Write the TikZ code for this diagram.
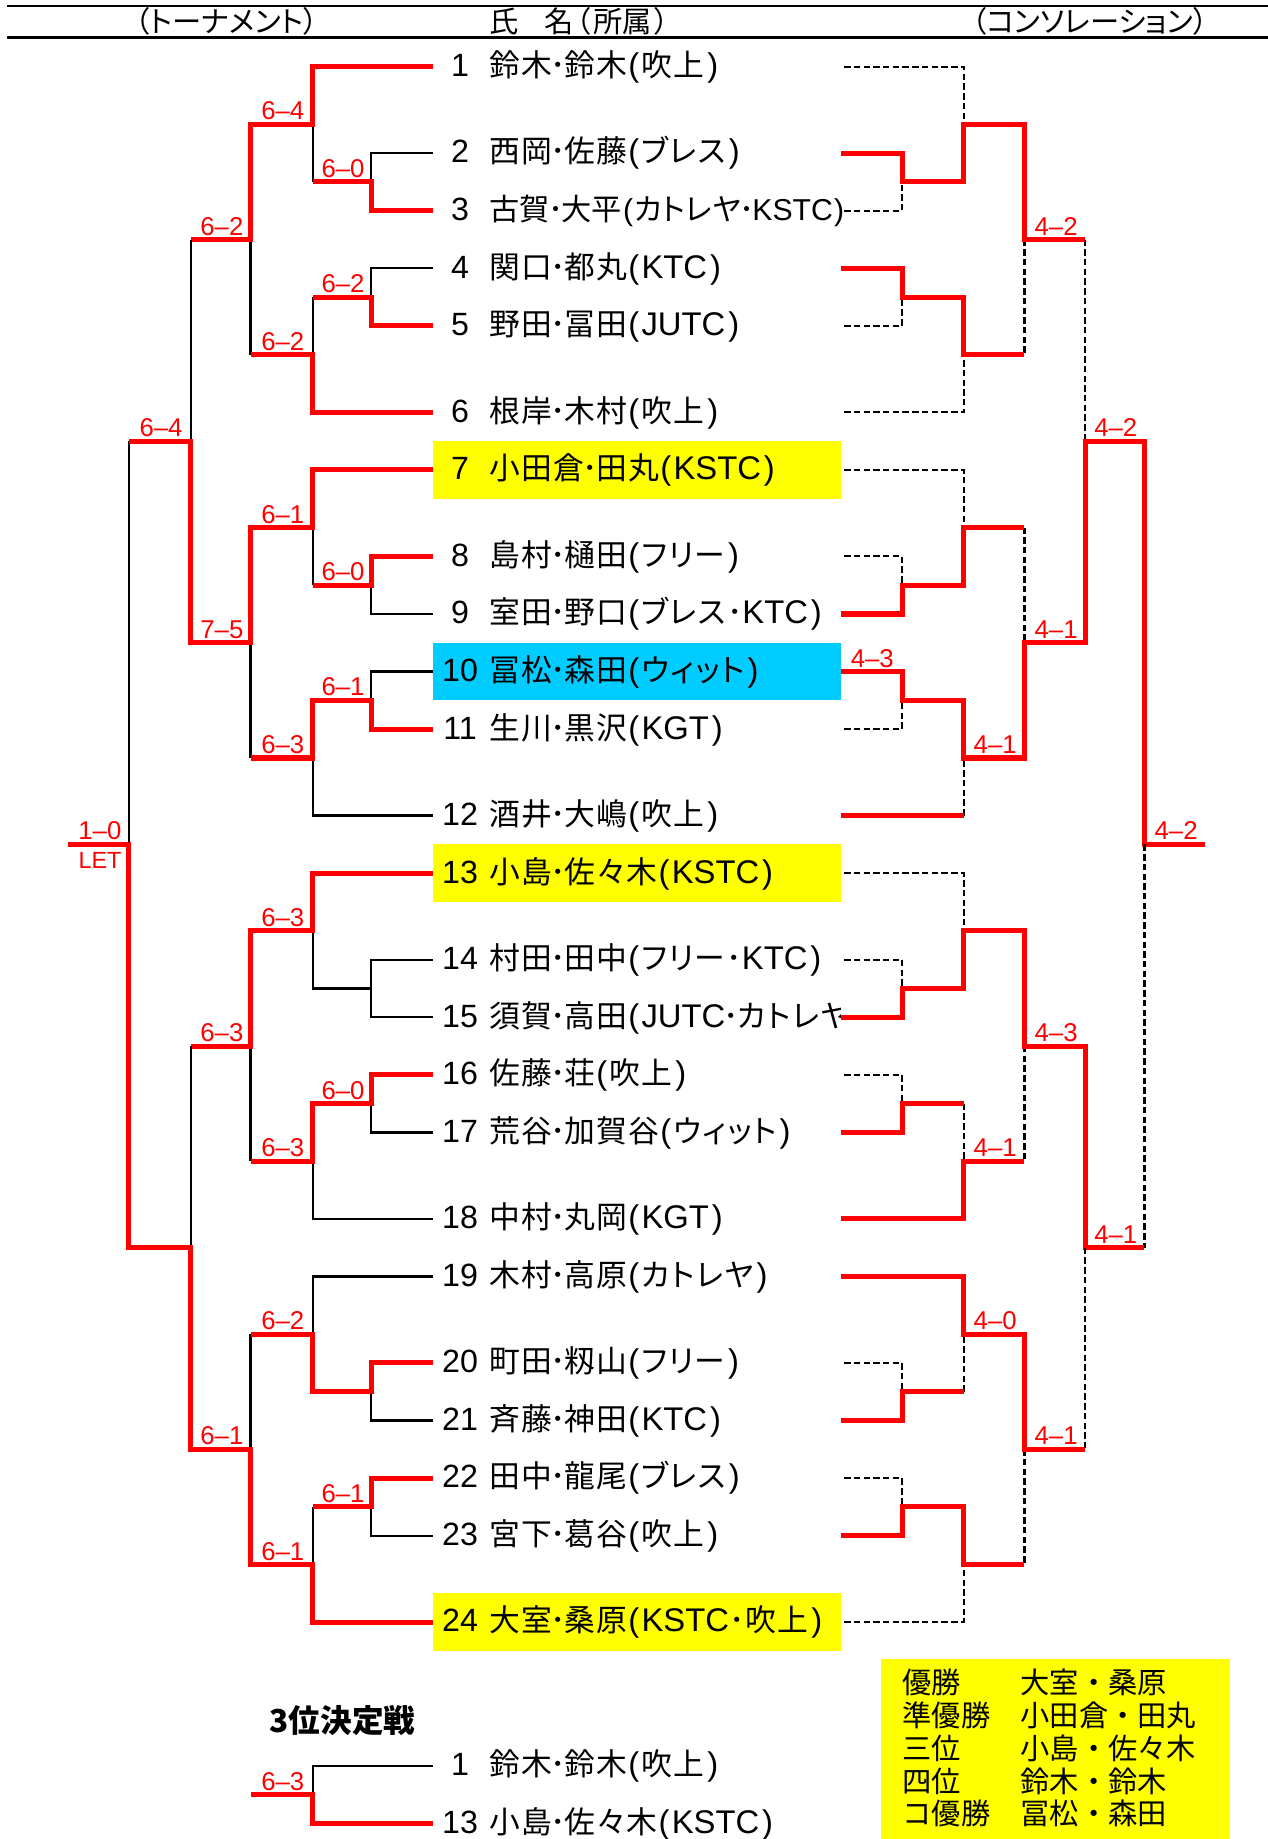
\documentclass[tikz,border=0pt]{standalone}
\usepackage{fontspec}
\setmainfont{Liberation Sans}
\newfontfamily\jp[RawFeature=+palt, LetterSpace=4]{Noto Sans CJK JP}
\newfontfamily\jpn[RawFeature=+palt]{Noto Sans CJK JP}
\newfontfamily\jpm{Noto Sans CJK JP}
\newfontfamily\lat{Liberation Sans}
% narrow parens, used in headers
\newcommand\lp{\kern2pt（}
\newcommand\rp{）\kern2pt}
% parens for the entries
\newcommand\LP{\kern1pt{\lat\fontsize{28}{28}\selectfont(}\kern2pt}
\newcommand\RP{\kern2.5pt{\lat\fontsize{28}{28}\selectfont)}}
\newcommand\D{\kern-1.5pt･\kern-1.5pt}
\newcommand\Dc{･}
\newcommand\E[1]{{\lat\fontsize{28}{28}\selectfont #1}}
\newcommand\Es[1]{{\lat #1}}
\definecolor{xred}{RGB}{255,0,0}
\definecolor{xyel}{RGB}{255,255,0}
\definecolor{xblu}{RGB}{0,204,255}
\tikzset{
  win/.style={draw=xred, line width=4.3pt, line join=miter},
  los/.style={draw=black, line width=1.9pt},
  dsh/.style={draw=black, line width=1.8pt, dash pattern=on 5.5pt off 2.8pt},
  sc/.style={text=xred, font=\fontsize{22}{22}\selectfont, anchor=base, inner sep=0pt, yshift=3.8pt},
  num/.style={anchor=base, inner sep=0pt, yshift=-8.4pt, font=\fontsize{27.5}{27.5}\selectfont},
  nm/.style={anchor=base west, inner sep=0pt, yshift=-8.4pt, font=\jp\fontsize{26.3}{26.3}\selectfont},
  nms/.style={anchor=base west, inner sep=0pt, yshift=-8.4pt, font=\jpn\fontsize{25.8}{25.8}\selectfont},
  hd/.style={anchor=base, inner sep=0pt, font=\jpn\fontsize{25}{25}\selectfont},
  res/.style={anchor=base west, inner sep=0pt, font=\jpm\fontsize{25}{25}\selectfont},
}
\begin{document}
\begin{tikzpicture}[x=1pt,y=-24.6pt]
\useasboundingbox (0,-2.3171) rectangle (1083,61.532);
% header
\draw[line width=2pt] (6,-2.1016) -- (1083,-2.1016);
\draw[line width=2.6pt] (6,-1.0203) -- (1083,-1.0203);
\node[hd] (h1) at (193.5,-1.1789) {\lp トーナメント\rp};
\node[hd, anchor=base west] (h2) at (418,-1.1789) {氏\kern22pt 名\lp\kern2pt 所属\kern2pt\rp};
\node[hd] (h3) at (931,-1.1789) {\lp コンソレーション\rp};
% boxes
\fill[xyel] (370,13) rectangle (718.5,15);
\fill[xblu] (370,20) rectangle (718.5,22);
\fill[xyel] (370,27) rectangle (718.5,29);
\fill[xyel] (370,53) rectangle (718.5,55);
\fill[xyel] (752.5,55.29) rectangle (1050.4,61.6);
% ---------- left bracket ----------
% block 1
\draw[los] (369.5,3)--(317,3)--(317,4);
\draw[los] (369.5,7)--(317,7)--(317,8);
\draw[los] (267,2)--(267,4);
\draw[los] (267,8)--(267,10);
\draw[los] (214,6)--(214,10);
\draw[win] (369.5,0)--(267,0)--(267,2)--(214,2)--(214,6)--(163,6);
\draw[win] (369.5,5)--(317,5)--(317,4)--(267,4);
\draw[win] (369.5,9)--(317,9)--(317,8)--(267,8);
\draw[win] (369.5,12)--(267,12)--(267,10)--(214,10);
% block 2
\draw[los] (369.5,19)--(317,19)--(317,18);
\draw[los] (369.5,21)--(317,21)--(317,22);
\draw[los] (369.5,26)--(267,26)--(267,24);
\draw[los] (267,16)--(267,18);
\draw[los] (214,20)--(214,24);
\draw[win] (369.5,17)--(317,17)--(317,18)--(267,18);
\draw[win] (369.5,23)--(317,23)--(317,22)--(267,22)--(267,24)--(214,24);
% block 3
\draw[los] (369.5,31)--(317,31)--(317,33)--(369.5,33);
\draw[los] (317,32)--(267,32)--(267,30);
\draw[los] (369.5,37)--(317,37)--(317,36);
\draw[los] (369.5,40)--(267,40)--(267,38);
\draw[los] (214,34)--(214,38);
\draw[win] (369.5,28)--(267,28)--(267,30)--(214,30)--(214,34)--(163,34);
\draw[win] (369.5,35)--(317,35)--(317,36)--(267,36)--(267,38)--(214,38);
% block 4
\draw[los] (369.5,42)--(267,42)--(267,44);
\draw[los] (369.5,47)--(317,47)--(317,46);
\draw[los] (369.5,51)--(317,51)--(317,50);
\draw[los] (267,50)--(267,52);
\draw[los] (214,44)--(214,48);
\draw[win] (369.5,45)--(317,45)--(317,46)--(267,46)--(267,44)--(214,44);
\draw[win] (369.5,49)--(317,49)--(317,50)--(267,50);
% top levels
\draw[los] (163,6)--(163,13);
\draw[los] (163,34)--(163,41);
\draw[los] (110,13)--(110,27);
\draw[win] (369.5,14)--(267,14)--(267,16)--(214,16)--(214,20)--(163,20)--(163,13)--(110,13);
\draw[win] (369.5,54)--(267,54)--(267,52)--(214,52)--(214,48)--(163,48)--(163,41)--(110,41)--(110,27)--(58,27);
% third place
\draw[los] (369.5,59)--(267,59)--(267,60);
\draw[win] (369.5,61)--(267,61)--(267,60)--(214,60);
% ---------- right bracket ----------
% block 1
\draw[dsh] (721,0)--(823,0)--(823,2);
\draw[dsh] (721,5)--(770.5,5)--(770.5,4);
\draw[dsh] (721,9)--(770.5,9)--(770.5,8);
\draw[dsh] (721,12)--(823,12)--(823,10);
\draw[dsh] (875,6)--(875,10);
\draw[dsh] (927,6)--(927,13);
\draw[win] (718,3)--(770.5,3)--(770.5,4)--(823,4)--(823,2)--(875,2)--(875,6)--(927,6);
\draw[win] (718,7)--(770.5,7)--(770.5,8)--(823,8)--(823,10)--(875,10);
% block 2
\draw[dsh] (721,14)--(823,14)--(823,16);
\draw[dsh] (721,17)--(770.5,17)--(770.5,18);
\draw[dsh] (875,16)--(875,20);
\draw[dsh] (721,23)--(770.5,23)--(770.5,22);
\draw[dsh] (823,26)--(823,24);
\draw[win] (718,19)--(770.5,19)--(770.5,18)--(823,18)--(823,16)--(875,16);
\draw[win] (718,21)--(770.5,21)--(770.5,22)--(823,22)--(823,24)--(875,24)--(875,20)--(927,20)--(927,13)--(977.5,13)--(977.5,27)--(1029.5,27);
\draw[win] (718,26)--(823,26);
% block 3
\draw[dsh] (721,28)--(823,28)--(823,30);
\draw[dsh] (721,31)--(770.5,31)--(770.5,32);
\draw[dsh] (721,35)--(770.5,35)--(770.5,36);
\draw[dsh] (823,36)--(823,38);
\draw[dsh] (875,34)--(875,38);
\draw[dsh] (977.5,27)--(977.5,41);
\draw[win] (718,33)--(770.5,33)--(770.5,32)--(823,32)--(823,30)--(875,30)--(875,34)--(927,34)--(927,41)--(977.5,41);
\draw[win] (718,37)--(770.5,37)--(770.5,36)--(823,36);
\draw[win] (718,40)--(823,40)--(823,38)--(875,38);
% block 4
\draw[dsh] (721,45)--(770.5,45)--(770.5,46);
\draw[dsh] (823,46)--(823,44);
\draw[dsh] (721,49)--(770.5,49)--(770.5,50);
\draw[dsh] (721,54)--(823,54)--(823,52);
\draw[dsh] (875,48)--(875,52);
\draw[dsh] (927,41)--(927,48);
\draw[win] (718,42)--(823,42)--(823,44)--(875,44)--(875,48)--(927,48);
\draw[win] (718,47)--(770.5,47)--(770.5,46)--(823,46);
\draw[win] (718,51)--(770.5,51)--(770.5,50)--(823,50)--(823,52)--(875,52);
% ---------- scores ----------
\node[sc] (s1) at (241.5,2) {6–4};
\node[sc] (s2) at (293,4) {6–0};
\node[sc] (s3) at (293,8) {6–2};
\node[sc] (s4) at (241.5,10) {6–2};
\node[sc] (s5) at (189.5,6) {6–2};
\node[sc] (s6) at (241.5,16) {6–1};
\node[sc] (s7) at (293,18) {6–0};
\node[sc] (s8) at (189.5,20) {7–5};
\node[sc] (s9) at (293,22) {6–1};
\node[sc] (s10) at (241.5,24) {6–3};
\node[sc] (s11) at (241.5,30) {6–3};
\node[sc] (s12) at (189.5,34) {6–3};
\node[sc] (s13) at (293,36) {6–0};
\node[sc] (s14) at (241.5,38) {6–3};
\node[sc] (s15) at (241.5,44) {6–2};
\node[sc] (s16) at (293,50) {6–1};
\node[sc] (s17) at (241.5,52) {6–1};
\node[sc] (s18) at (189.5,48) {6–1};
\node[sc] (s19) at (137.5,13) {6–4};
\node[sc] (s20) at (85.3,27) {1–0};
\node[text=xred, font=\fontsize{20}{20}\selectfont, anchor=base, inner sep=0pt] (let) at (85.4,27.83) {LET};
\node[sc] (s21) at (241.5,60) {6–3};
\node[sc] (c1) at (902,6) {4–2};
\node[sc] (c2) at (745,21) {4–3};
\node[sc] (c3) at (850,24) {4–1};
\node[sc] (c4) at (902,20) {4–1};
\node[sc] (c5) at (953,13) {4–2};
\node[sc] (c6) at (1004.5,27) {4–2};
\node[sc] (c7) at (902,34) {4–3};
\node[sc] (c8) at (850,38) {4–1};
\node[sc] (c9) at (953,41) {4–1};
\node[sc] (c10) at (850,44) {4–0};
\node[sc] (c11) at (902,48) {4–1};
% ---------- players ----------
\foreach \n/\h in {1/0,2/3,3/5,4/7,5/9,6/12,7/14,8/17,9/19,10/21,11/23,12/26,13/28,14/31,15/33,16/35,17/37,18/40,19/42,20/45,21/47,22/49,23/51,24/54}
  \node[num] (n\n) at (393,\h) {\n};
\node[nm] (p1) at (418,0) {鈴木\D 鈴木\LP 吹上\RP};
\node[nm] (p2) at (418,3) {西岡\D 佐藤\LP ブレス\RP};
\node[nms] (p3) at (418,5) {古賀\D 大平\kern1pt\Es{(}\kern1pt カトレヤ\D\Es{KSTC}\kern1pt\Es{)}};
\node[nm] (p4) at (418,7) {関口\D 都丸\LP\E{KTC}\RP};
\node[nm] (p5) at (418,9) {野田\D 冨田\LP\E{JUTC}\RP};
\node[nm] (p6) at (418,12) {根岸\D 木村\LP 吹上\RP};
\node[nm] (p7) at (418,14) {小田倉\D 田丸\LP\E{KSTC}\RP};
\node[nm] (p8) at (418,17) {島村\D 樋田\LP フリー\RP};
\node[nm] (p9) at (418,19) {室田\D 野口\LP ブレス\Dc\E{KTC}\RP};
\node[nm] (p10) at (418,21) {冨松\D 森田\LP ウィット\RP};
\node[nm] (p11) at (418,23) {生川\D 黒沢\LP\E{KGT}\RP};
\node[nm] (p12) at (418,26) {酒井\D 大嶋\LP 吹上\RP};
\node[nm] (p13) at (418,28) {小島\D 佐々木\LP\E{KSTC}\RP};
\node[nm] (p14) at (418,31) {村田\D 田中\LP フリー\Dc\E{KTC}\RP};
\begin{scope}
\clip (360,32) rectangle (718,34);
\node[nm] (p15) at (418,33) {須賀\D 高田\LP\E{JUTC}\D カトレヤ\RP};
\end{scope}
\node[nm] (p16) at (418,35) {佐藤\D 荘\LP 吹上\RP};
\node[nm] (p17) at (418,37) {荒谷\D 加賀谷\LP ウィット\RP};
\node[nm] (p18) at (418,40) {中村\D 丸岡\LP\E{KGT}\RP};
\node[nm] (p19) at (418,42) {木村\D 高原\LP カトレヤ\RP};
\node[nm] (p20) at (418,45) {町田\D 籾山\LP フリー\RP};
\node[nm] (p21) at (418,47) {斉藤\D 神田\LP\E{KTC}\RP};
\node[nm] (p22) at (418,49) {田中\D 龍尾\LP ブレス\RP};
\node[nm] (p23) at (418,51) {宮下\D 葛谷\LP 吹上\RP};
\node[nm] (p24) at (418,54) {大室\D 桑原\LP\E{KSTC}\Dc 吹上\RP};
% third place
\node[anchor=base west, inner sep=0pt, font=\jpm\bfseries\fontsize{27}{27}\selectfont] (tp) at (230,57.85) {3位決定戦};
\node[num] (m1) at (393,59) {1};
\node[nm] (t1) at (418,59) {鈴木\D 鈴木\LP 吹上\RP};
\node[num] (m13) at (393,61) {13};
\node[nm] (t13) at (418,61) {小島\D 佐々木\LP\E{KSTC}\RP};
% results
\node[res] (r1a) at (770.6,56.48) {優勝};
\node[res] (r1b) at (871.5,56.48) {大室・桑原};
\node[res] (r2a) at (770.6,57.62) {準優勝};
\node[res] (r2b) at (871.5,57.62) {小田倉・田丸};
\node[res] (r3a) at (770.6,58.76) {三位};
\node[res] (r3b) at (871.5,58.76) {小島・佐々木};
\node[res] (r4a) at (770.6,59.90) {四位};
\node[res] (r4b) at (871.5,59.90) {鈴木・鈴木};
\node[res] (r5a) at (770.6,61.04) {コ優勝};
\node[res] (r5b) at (871.5,61.04) {冨松・森田};
\end{tikzpicture}
\end{document}
